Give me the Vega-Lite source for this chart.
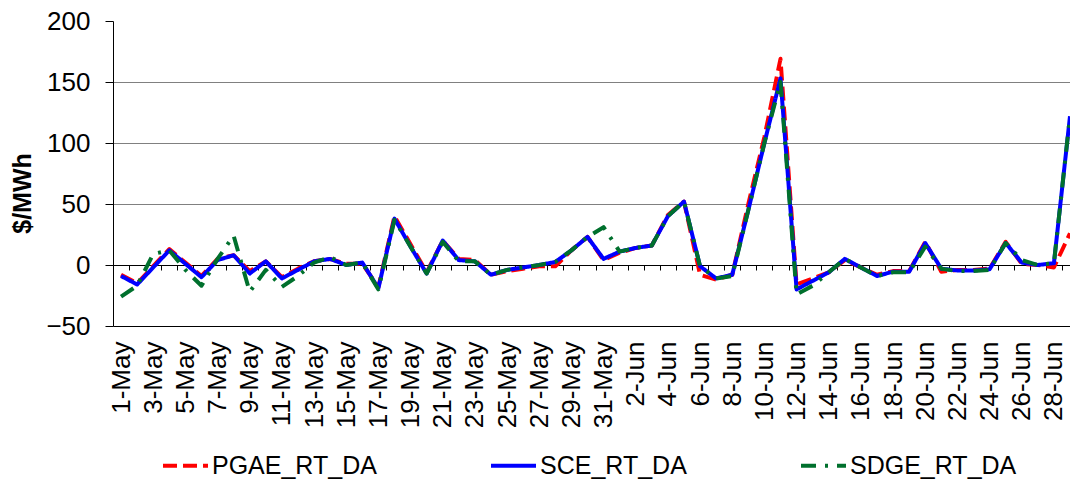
{
  "$schema": "https://vega.github.io/schema/vega-lite/v6.json",
  "width": 957,
  "height": 305,
  "autosize": {"type": "none"},
  "padding": {"left": 113, "top": 21, "right": 0, "bottom": 157},
  "background": "white",
  "config": {
    "font": "Liberation Sans",
    "view": {"stroke": null},
    "axis": {"labelFont": "Liberation Sans", "titleFont": "Liberation Sans", "labelColor": "black", "titleColor": "black"},
    "legend": {"labelFont": "Liberation Sans"}
  },
  "data": {
    "values": [
      {"d":"2006-05-01","s":"PGAE_RT_DA","v":-8},{"d":"2006-05-02","s":"PGAE_RT_DA","v":-15},{"d":"2006-05-03","s":"PGAE_RT_DA","v":-1},{"d":"2006-05-04","s":"PGAE_RT_DA","v":13},{"d":"2006-05-05","s":"PGAE_RT_DA","v":2},{"d":"2006-05-06","s":"PGAE_RT_DA","v":-9},{"d":"2006-05-07","s":"PGAE_RT_DA","v":5},{"d":"2006-05-08","s":"PGAE_RT_DA","v":8},{"d":"2006-05-09","s":"PGAE_RT_DA","v":-5},{"d":"2006-05-10","s":"PGAE_RT_DA","v":3},
      {"d":"2006-05-11","s":"PGAE_RT_DA","v":-10},{"d":"2006-05-12","s":"PGAE_RT_DA","v":-3},{"d":"2006-05-13","s":"PGAE_RT_DA","v":3},{"d":"2006-05-14","s":"PGAE_RT_DA","v":5},{"d":"2006-05-15","s":"PGAE_RT_DA","v":1},{"d":"2006-05-16","s":"PGAE_RT_DA","v":1},{"d":"2006-05-17","s":"PGAE_RT_DA","v":-18},{"d":"2006-05-18","s":"PGAE_RT_DA","v":40},{"d":"2006-05-19","s":"PGAE_RT_DA","v":17},{"d":"2006-05-20","s":"PGAE_RT_DA","v":-6},
      {"d":"2006-05-21","s":"PGAE_RT_DA","v":20},{"d":"2006-05-22","s":"PGAE_RT_DA","v":5},{"d":"2006-05-23","s":"PGAE_RT_DA","v":4},{"d":"2006-05-24","s":"PGAE_RT_DA","v":-8},{"d":"2006-05-25","s":"PGAE_RT_DA","v":-5},{"d":"2006-05-26","s":"PGAE_RT_DA","v":-3},{"d":"2006-05-27","s":"PGAE_RT_DA","v":-1},{"d":"2006-05-28","s":"PGAE_RT_DA","v":-1},{"d":"2006-05-29","s":"PGAE_RT_DA","v":12},{"d":"2006-05-30","s":"PGAE_RT_DA","v":23},
      {"d":"2006-05-31","s":"PGAE_RT_DA","v":4},{"d":"2006-06-01","s":"PGAE_RT_DA","v":10},{"d":"2006-06-02","s":"PGAE_RT_DA","v":14},{"d":"2006-06-03","s":"PGAE_RT_DA","v":16},{"d":"2006-06-04","s":"PGAE_RT_DA","v":41},{"d":"2006-06-05","s":"PGAE_RT_DA","v":52},{"d":"2006-06-06","s":"PGAE_RT_DA","v":-8},{"d":"2006-06-07","s":"PGAE_RT_DA","v":-12},{"d":"2006-06-08","s":"PGAE_RT_DA","v":-8},{"d":"2006-06-09","s":"PGAE_RT_DA","v":50},
      {"d":"2006-06-10","s":"PGAE_RT_DA","v":105},{"d":"2006-06-11","s":"PGAE_RT_DA","v":169},{"d":"2006-06-12","s":"PGAE_RT_DA","v":-16},{"d":"2006-06-13","s":"PGAE_RT_DA","v":-11},{"d":"2006-06-14","s":"PGAE_RT_DA","v":-6},{"d":"2006-06-15","s":"PGAE_RT_DA","v":4},{"d":"2006-06-16","s":"PGAE_RT_DA","v":-2},{"d":"2006-06-17","s":"PGAE_RT_DA","v":-8},{"d":"2006-06-18","s":"PGAE_RT_DA","v":-5},{"d":"2006-06-19","s":"PGAE_RT_DA","v":-5},
      {"d":"2006-06-20","s":"PGAE_RT_DA","v":19},{"d":"2006-06-21","s":"PGAE_RT_DA","v":-5.5},{"d":"2006-06-22","s":"PGAE_RT_DA","v":-4},{"d":"2006-06-23","s":"PGAE_RT_DA","v":-4},{"d":"2006-06-24","s":"PGAE_RT_DA","v":-3},{"d":"2006-06-25","s":"PGAE_RT_DA","v":19},{"d":"2006-06-26","s":"PGAE_RT_DA","v":1},{"d":"2006-06-27","s":"PGAE_RT_DA","v":0},{"d":"2006-06-28","s":"PGAE_RT_DA","v":-2},{"d":"2006-06-29","s":"PGAE_RT_DA","v":26},

      {"d":"2006-05-01","s":"SCE_RT_DA","v":-9},{"d":"2006-05-02","s":"SCE_RT_DA","v":-16},{"d":"2006-05-03","s":"SCE_RT_DA","v":-2},{"d":"2006-05-04","s":"SCE_RT_DA","v":12},{"d":"2006-05-05","s":"SCE_RT_DA","v":1},{"d":"2006-05-06","s":"SCE_RT_DA","v":-10},{"d":"2006-05-07","s":"SCE_RT_DA","v":4},{"d":"2006-05-08","s":"SCE_RT_DA","v":8},{"d":"2006-05-09","s":"SCE_RT_DA","v":-7},{"d":"2006-05-10","s":"SCE_RT_DA","v":3},
      {"d":"2006-05-11","s":"SCE_RT_DA","v":-11},{"d":"2006-05-12","s":"SCE_RT_DA","v":-4},{"d":"2006-05-13","s":"SCE_RT_DA","v":3},{"d":"2006-05-14","s":"SCE_RT_DA","v":5},{"d":"2006-05-15","s":"SCE_RT_DA","v":0},{"d":"2006-05-16","s":"SCE_RT_DA","v":2},{"d":"2006-05-17","s":"SCE_RT_DA","v":-19},{"d":"2006-05-18","s":"SCE_RT_DA","v":38},{"d":"2006-05-19","s":"SCE_RT_DA","v":15},{"d":"2006-05-20","s":"SCE_RT_DA","v":-7},
      {"d":"2006-05-21","s":"SCE_RT_DA","v":20},{"d":"2006-05-22","s":"SCE_RT_DA","v":4},{"d":"2006-05-23","s":"SCE_RT_DA","v":3},{"d":"2006-05-24","s":"SCE_RT_DA","v":-8},{"d":"2006-05-25","s":"SCE_RT_DA","v":-4},{"d":"2006-05-26","s":"SCE_RT_DA","v":-2},{"d":"2006-05-27","s":"SCE_RT_DA","v":0},{"d":"2006-05-28","s":"SCE_RT_DA","v":2.5},{"d":"2006-05-29","s":"SCE_RT_DA","v":12},{"d":"2006-05-30","s":"SCE_RT_DA","v":23},
      {"d":"2006-05-31","s":"SCE_RT_DA","v":5},{"d":"2006-06-01","s":"SCE_RT_DA","v":11},{"d":"2006-06-02","s":"SCE_RT_DA","v":14},{"d":"2006-06-03","s":"SCE_RT_DA","v":16},{"d":"2006-06-04","s":"SCE_RT_DA","v":40},{"d":"2006-06-05","s":"SCE_RT_DA","v":52},{"d":"2006-06-06","s":"SCE_RT_DA","v":-1},{"d":"2006-06-07","s":"SCE_RT_DA","v":-11},{"d":"2006-06-08","s":"SCE_RT_DA","v":-8},{"d":"2006-06-09","s":"SCE_RT_DA","v":45},
      {"d":"2006-06-10","s":"SCE_RT_DA","v":100},{"d":"2006-06-11","s":"SCE_RT_DA","v":153},{"d":"2006-06-12","s":"SCE_RT_DA","v":-20},{"d":"2006-06-13","s":"SCE_RT_DA","v":-13},{"d":"2006-06-14","s":"SCE_RT_DA","v":-6},{"d":"2006-06-15","s":"SCE_RT_DA","v":5},{"d":"2006-06-16","s":"SCE_RT_DA","v":-2},{"d":"2006-06-17","s":"SCE_RT_DA","v":-9},{"d":"2006-06-18","s":"SCE_RT_DA","v":-5.5},{"d":"2006-06-19","s":"SCE_RT_DA","v":-5.5},
      {"d":"2006-06-20","s":"SCE_RT_DA","v":18},{"d":"2006-06-21","s":"SCE_RT_DA","v":-3},{"d":"2006-06-22","s":"SCE_RT_DA","v":-4.5},{"d":"2006-06-23","s":"SCE_RT_DA","v":-4.5},{"d":"2006-06-24","s":"SCE_RT_DA","v":-3.5},{"d":"2006-06-25","s":"SCE_RT_DA","v":18},{"d":"2006-06-26","s":"SCE_RT_DA","v":2},{"d":"2006-06-27","s":"SCE_RT_DA","v":0},{"d":"2006-06-28","s":"SCE_RT_DA","v":1.5},{"d":"2006-06-29","s":"SCE_RT_DA","v":122},

      {"d":"2006-05-01","s":"SDGE_RT_DA","v":-26},{"d":"2006-05-02","s":"SDGE_RT_DA","v":-17},{"d":"2006-05-03","s":"SDGE_RT_DA","v":9},{"d":"2006-05-04","s":"SDGE_RT_DA","v":12},{"d":"2006-05-05","s":"SDGE_RT_DA","v":-4},{"d":"2006-05-06","s":"SDGE_RT_DA","v":-17},{"d":"2006-05-07","s":"SDGE_RT_DA","v":5},{"d":"2006-05-08","s":"SDGE_RT_DA","v":24},{"d":"2006-05-09","s":"SDGE_RT_DA","v":-22},{"d":"2006-05-10","s":"SDGE_RT_DA","v":-4},
      {"d":"2006-05-11","s":"SDGE_RT_DA","v":-18},{"d":"2006-05-12","s":"SDGE_RT_DA","v":-9},{"d":"2006-05-13","s":"SDGE_RT_DA","v":2},{"d":"2006-05-14","s":"SDGE_RT_DA","v":6.5},{"d":"2006-05-15","s":"SDGE_RT_DA","v":0},{"d":"2006-05-16","s":"SDGE_RT_DA","v":2},{"d":"2006-05-17","s":"SDGE_RT_DA","v":-20},{"d":"2006-05-18","s":"SDGE_RT_DA","v":37},{"d":"2006-05-19","s":"SDGE_RT_DA","v":15},{"d":"2006-05-20","s":"SDGE_RT_DA","v":-7},
      {"d":"2006-05-21","s":"SDGE_RT_DA","v":19},{"d":"2006-05-22","s":"SDGE_RT_DA","v":3},{"d":"2006-05-23","s":"SDGE_RT_DA","v":3},{"d":"2006-05-24","s":"SDGE_RT_DA","v":-8},{"d":"2006-05-25","s":"SDGE_RT_DA","v":-4},{"d":"2006-05-26","s":"SDGE_RT_DA","v":-2},{"d":"2006-05-27","s":"SDGE_RT_DA","v":0},{"d":"2006-05-28","s":"SDGE_RT_DA","v":2.5},{"d":"2006-05-29","s":"SDGE_RT_DA","v":12},{"d":"2006-05-30","s":"SDGE_RT_DA","v":23},
      {"d":"2006-05-31","s":"SDGE_RT_DA","v":31},{"d":"2006-06-01","s":"SDGE_RT_DA","v":11},{"d":"2006-06-02","s":"SDGE_RT_DA","v":14},{"d":"2006-06-03","s":"SDGE_RT_DA","v":16},{"d":"2006-06-04","s":"SDGE_RT_DA","v":40},{"d":"2006-06-05","s":"SDGE_RT_DA","v":52},{"d":"2006-06-06","s":"SDGE_RT_DA","v":-1},{"d":"2006-06-07","s":"SDGE_RT_DA","v":-11},{"d":"2006-06-08","s":"SDGE_RT_DA","v":-9},{"d":"2006-06-09","s":"SDGE_RT_DA","v":45},
      {"d":"2006-06-10","s":"SDGE_RT_DA","v":100},{"d":"2006-06-11","s":"SDGE_RT_DA","v":150},{"d":"2006-06-12","s":"SDGE_RT_DA","v":-24},{"d":"2006-06-13","s":"SDGE_RT_DA","v":-17},{"d":"2006-06-14","s":"SDGE_RT_DA","v":-6},{"d":"2006-06-15","s":"SDGE_RT_DA","v":5},{"d":"2006-06-16","s":"SDGE_RT_DA","v":-2},{"d":"2006-06-17","s":"SDGE_RT_DA","v":-9},{"d":"2006-06-18","s":"SDGE_RT_DA","v":-6},{"d":"2006-06-19","s":"SDGE_RT_DA","v":-6},
      {"d":"2006-06-20","s":"SDGE_RT_DA","v":15},{"d":"2006-06-21","s":"SDGE_RT_DA","v":-3},{"d":"2006-06-22","s":"SDGE_RT_DA","v":-5},{"d":"2006-06-23","s":"SDGE_RT_DA","v":-5},{"d":"2006-06-24","s":"SDGE_RT_DA","v":-4},{"d":"2006-06-25","s":"SDGE_RT_DA","v":18},{"d":"2006-06-26","s":"SDGE_RT_DA","v":4},{"d":"2006-06-27","s":"SDGE_RT_DA","v":0},{"d":"2006-06-28","s":"SDGE_RT_DA","v":1.5},{"d":"2006-06-29","s":"SDGE_RT_DA","v":122}
    ]
  },
  "mark": {"type": "line", "strokeWidth": 4, "strokeCap": "butt", "strokeJoin": "round", "clip": true},
  "encoding": {
    "x": {
      "field": "d",
      "type": "temporal",
      "scale": {
        "type": "utc",
        "domain": [
          {"year": 2006, "month": 4, "date": 30, "hours": 12, "utc": true},
          {"year": 2006, "month": 6, "date": 29, "hours": 0, "utc": true}
        ],
        "nice": false
      },
      "axis": {
        "title": null,
        "orient": "bottom",
        "offset": -61,
        "tickCount": {"interval": "day", "step": 1},
        "format": "%-d-%b",
        "labelExpr": "round((datum.value - 1146441600000) / 86400000) % 2 === 0 ? datum.label : ''",
        "labelAngle": -90,
        "labelAlign": "right",
        "labelBaseline": "middle",
        "labelFontSize": 26,
        "labelPadding": 71,
        "labelOverlap": false,
        "labelFlush": false,
        "labelBound": false,
        "tickOffset": 8.04,
        "labelOffset": -8.04,
        "tickSize": 5,
        "tickColor": "black",
        "tickWidth": 1,
        "domainColor": "black",
        "domainWidth": 1,
        "grid": false
      }
    },
    "y": {
      "field": "v",
      "type": "quantitative",
      "scale": {"domain": [-50, 200], "nice": false, "zero": false},
      "axis": {
        "title": "$/MWh",
        "titleFontSize": 25,
        "titleFontWeight": "bold",
        "titleX": -83,
        "titleY": 172,
        "titleAlign": "center",
        "titleBaseline": "alphabetic",
        "titleAngle": -90,
        "values": [-50, 0, 50, 100, 150, 200],
        "labelFontSize": 26,
        "labelPadding": 15,
        "tickSize": 8,
        "tickColor": "black",
        "domainColor": "black",
        "grid": true,
        "gridColor": {"condition": {"test": "datum.value === -50", "value": "black"}, "value": "#808080"},
        "gridOpacity": {"condition": {"test": "datum.value === 200 || datum.value === 0", "value": 0}, "value": 1},
        "gridWidth": 1
      }
    },
    "color": {
      "field": "s",
      "type": "nominal",
      "scale": {"domain": ["PGAE_RT_DA", "SCE_RT_DA", "SDGE_RT_DA"], "range": ["#FF0000", "#0000FF", "#00702D"]},
      "legend": {
        "title": null,
        "orient": "none",
        "direction": "horizontal",
        "legendX": 48,
        "legendY": 420,
        "padding": 0,
        "symbolType": "stroke",
        "symbolSize": 2025,
        "symbolStrokeWidth": 4,
        "labelFontSize": 25,
        "labelOffset": 2,
        "labelLimit": 400,
        "labelColor": "black",
        "columnPadding": 106,
        "gridAlign": "each"
      }
    },
    "strokeDash": {
      "field": "s",
      "type": "nominal",
      "scale": {"domain": ["PGAE_RT_DA", "SCE_RT_DA", "SDGE_RT_DA"], "range": [[14, 6], [1, 0], [15, 9, 3, 9]]},
      "legend": {
        "title": null,
        "orient": "none",
        "direction": "horizontal",
        "legendX": 48,
        "legendY": 420,
        "padding": 0,
        "symbolType": "stroke",
        "symbolSize": 2025,
        "symbolStrokeWidth": 4,
        "labelFontSize": 25,
        "labelOffset": 2,
        "labelLimit": 400,
        "labelColor": "black",
        "columnPadding": 106,
        "gridAlign": "each"
      }
    },
    "order": {"field": "d", "type": "temporal"}
  }
}
